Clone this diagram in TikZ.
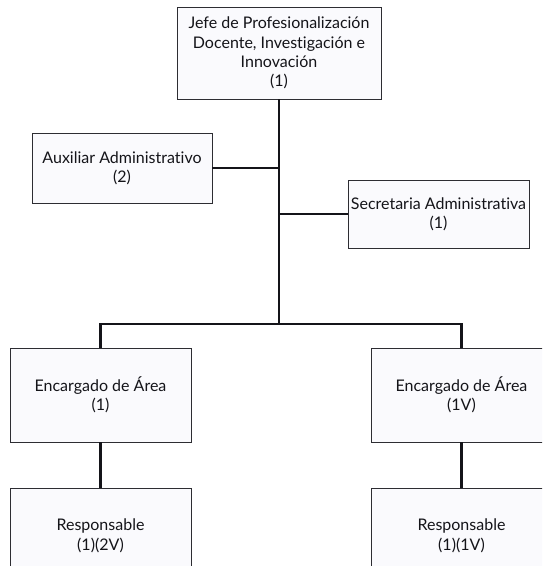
\documentclass[tikz,border=0pt]{standalone}
\usepackage{fontspec}
\setmainfont{Lato}[Ligatures=NoCommon]
\usepackage{xcolor}
\usetikzlibrary{positioning, calc}
\definecolor{boxLine}{RGB}{45, 45, 50}
\definecolor{boxFill}{RGB}{250, 250, 253}
\definecolor{inkBlack}{RGB}{20, 20, 25}

\begin{document}
\begin{tikzpicture}[
    x=1pt, y=-1pt,
    orgbox/.style={rectangle, draw=boxLine, fill=boxFill, line width=0.9pt, align=center, inner sep=2pt, text=inkBlack, font=\fontsize{16}{19.4}\selectfont},
    link/.style={draw=inkBlack, line width=2.4pt}
  ]
    \useasboundingbox (0,0) rectangle (542,566);
    \clip (0,0) rectangle (542,566);
    \fill[white] (0,0) rectangle (542,566);

    \node[orgbox, minimum width=204pt, minimum height=92pt] (jefe) at (279,53) {Jefe de Profesionalización\\Docente, Investigación e\\Innovación\\(1)};
    \node[orgbox, minimum width=180pt, minimum height=70pt] (aux) at (122,168) {Auxiliar Administrativo\\(2)};
    \node[orgbox, minimum width=181pt, minimum height=68pt] (sec) at (438.5,214) {Secretaria Administrativa\\(1)};
    \coordinate (bus) at (279,324);

    \node[orgbox, minimum width=181pt, minimum height=94pt] (enc1) at (100.5,395) {Encargado de Área\\(1)};
    \node[orgbox, minimum width=181pt, minimum height=94pt] (enc2) at (461.5,395) {Encargado de Área\\(1V)};
    \node[orgbox, minimum width=181pt, minimum height=94pt, below=46pt of enc1] (resp1) {Responsable\\(1)(2V)};
    \node[orgbox, minimum width=181pt, minimum height=94pt, below=46pt of enc2] (resp2) {Responsable\\(1)(1V)};

    \path[link] (jefe.south) -- (bus);
    \path[link] (aux.east) -- (aux.east -| bus);
    \path[link] (sec.west) -- (sec.west -| bus);
    \path[link] (enc1.north) |- (bus) -| (enc2.north);
    \path[link] (enc1) -- (resp1);
    \path[link] (enc2) -- (resp2);
  \end{tikzpicture}
\end{document}
